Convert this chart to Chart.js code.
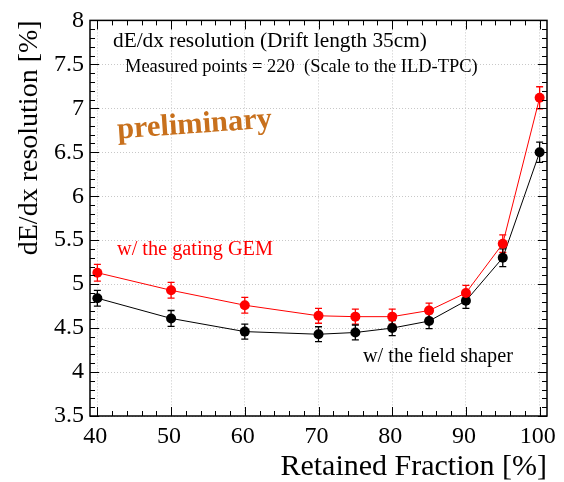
<!DOCTYPE html>
<html>
<head>
<meta charset="utf-8">
<script src="https://cdn.jsdelivr.net/npm/chart.js@4.4.0/dist/chart.umd.min.js"></script>
<style>
  html, body { margin: 0; padding: 0; background: #fff; }
</style>
</head>
<body>
<canvas id="chart" width="564" height="482"></canvas>
<script>
const fractions = [40, 50, 60, 70, 75, 80, 85, 90, 95, 100];
const gatingGem = [5.13, 4.93, 4.76, 4.64, 4.63, 4.63, 4.70, 4.90, 5.46, 7.12];
const gatingGemErr = [0.095, 0.09, 0.09, 0.085, 0.085, 0.085, 0.085, 0.085, 0.10, 0.125];
const fieldShaper = [4.84, 4.61, 4.46, 4.43, 4.45, 4.50, 4.58, 4.81, 5.30, 6.50];
const fieldShaperErr = [0.09, 0.09, 0.085, 0.085, 0.085, 0.085, 0.085, 0.085, 0.10, 0.115];
const xTicks = [40, 50, 60, 70, 80, 90, 100];
const yTicks = [3.5, 4, 4.5, 5, 5.5, 6, 6.5, 7, 7.5, 8];

const SERIF = "'Liberation Serif', 'DejaVu Serif', serif";

function toPoints(xs, ys) {
  return xs.map((x, i) => ({ x: x, y: ys[i] }));
}

// font size so that the text is given width wide
function fitFont(ctx, text, width, weight) {
  ctx.font = weight + " 20px " + SERIF;
  const w = ctx.measureText(text).width;
  return weight + " " + (20 * width / w).toFixed(2) + "px " + SERIF;
}

const errorBars = {
  id: "errorBars",
  beforeDatasetsDraw(chart) {
    const { ctx, scales: { x, y } } = chart;
    const errs = [gatingGemErr, fieldShaperErr];
    ctx.save();
    ctx.lineWidth = 1.3;
    chart.data.datasets.forEach((ds, k) => {
      ctx.strokeStyle = ds.borderColor;
      ds.data.forEach((p, i) => {
        const px = x.getPixelForValue(p.x);
        const top = y.getPixelForValue(p.y + errs[k][i]);
        const bot = y.getPixelForValue(p.y - errs[k][i]);
        ctx.beginPath();
        ctx.moveTo(px, top); ctx.lineTo(px, bot);
        ctx.moveTo(px - 3.5, top); ctx.lineTo(px + 3.5, top);
        ctx.moveTo(px - 3.5, bot); ctx.lineTo(px + 3.5, bot);
        ctx.stroke();
      });
    });
    ctx.restore();
  }
};

const frameTicks = {
  id: "frameTicks",
  afterDraw(chart) {
    const { ctx, chartArea: a, scales: { x, y } } = chart;
    ctx.save();
    ctx.strokeStyle = "#000";
    ctx.lineWidth = 1;
    ctx.beginPath();
    for (let i = 20; i <= 50; i++) {
      const v = i * 2;
      const px = Math.round(x.getPixelForValue(v)) + 0.5;
      const len = v % 10 === 0 ? 9 : 5;
      ctx.moveTo(px, a.bottom); ctx.lineTo(px, a.bottom - len);
      ctx.moveTo(px, a.top); ctx.lineTo(px, a.top + len);
    }
    for (let i = 35; i <= 80; i++) {
      const py = Math.round(y.getPixelForValue(i / 10)) + 0.5;
      const len = i % 5 === 0 ? 9 : 5;
      ctx.moveTo(a.left, py); ctx.lineTo(a.left + len, py);
      ctx.moveTo(a.right, py); ctx.lineTo(a.right - len, py);
    }
    ctx.stroke();
    ctx.lineWidth = 1.5;
    ctx.strokeRect(a.left, a.top, a.right - a.left, a.bottom - a.top);
    ctx.restore();
  }
};

const labels = {
  id: "labels",
  afterDraw(chart) {
    const ctx = chart.ctx;
    ctx.save();
    ctx.textBaseline = "alphabetic";
    ctx.textAlign = "left";
    ctx.fillStyle = "#000";

    let t = "dE/dx resolution (Drift length 35cm)";
    ctx.font = fitFont(ctx, t, 314, "normal");
    ctx.fillText(t, 113, 47);

    t = "Measured points = 220  (Scale to the ILD-TPC)";
    ctx.font = fitFont(ctx, t, 353, "normal");
    ctx.fillText(t, 125, 72);

    ctx.fillStyle = "#ff0000";
    t = "w/ the gating GEM";
    ctx.font = fitFont(ctx, t, 156, "normal");
    ctx.fillText(t, 117, 255);

    ctx.fillStyle = "#000";
    t = "w/ the field shaper";
    ctx.font = fitFont(ctx, t, 150, "normal");
    ctx.fillText(t, 363, 362);

    t = "preliminary";
    ctx.fillStyle = "#c8701c";
    ctx.font = fitFont(ctx, t, 155, "bold");
    ctx.translate(195, 133);
    ctx.rotate(-4 * Math.PI / 180);
    ctx.textAlign = "center";
    ctx.fillText(t, 0, 0);
    ctx.restore();
  }
};

new Chart(document.getElementById("chart"), {
  type: "line",
  data: {
    datasets: [
      {
        label: "w/ the gating GEM",
        data: toPoints(fractions, gatingGem),
        borderColor: "#ff0000",
        backgroundColor: "#ff0000",
        borderWidth: 1,
        pointRadius: 5,
        pointBorderWidth: 0,
        tension: 0
      },
      {
        label: "w/ the field shaper",
        data: toPoints(fractions, fieldShaper),
        borderColor: "#000000",
        backgroundColor: "#000000",
        borderWidth: 1,
        pointRadius: 5,
        pointBorderWidth: 0,
        tension: 0
      }
    ]
  },
  options: {
    responsive: false,
    animation: false,
    devicePixelRatio: 1,
    layout: { padding: { top: 13, right: 17, left: 0, bottom: 0 } },
    plugins: {
      legend: { display: false },
      tooltip: { enabled: false }
    },
    scales: {
      x: {
        type: "linear",
        min: 39,
        max: 101,
        afterBuildTicks: s => { s.ticks = xTicks.map(v => ({ value: v })); },
        afterFit: s => { s.height = 66; },
        grid: { color: "#c8c8c8", lineWidth: 1, drawTicks: false },
        border: { display: false, dash: [1, 2] },
        ticks: {
          color: "#000",
          padding: 6,
          labelOffset: -2,
          maxRotation: 0,
          font: { family: SERIF, size: 24 },
          callback: v => String(v)
        },
        title: {
          display: true,
          text: "Retained Fraction [%]",
          align: "end",
          color: "#000",
          font: { family: SERIF, size: 30 },
          padding: { top: 0, bottom: -3 }
        }
      },
      y: {
        min: 3.5,
        max: 8,
        afterBuildTicks: s => { s.ticks = yTicks.map(v => ({ value: v })); },
        afterFit: s => { s.width = 90; },
        grid: { color: "#c8c8c8", lineWidth: 1, drawTicks: false },
        border: { display: false, dash: [1, 2] },
        ticks: {
          color: "#000",
          padding: 6,
          font: { family: SERIF, size: 24 },
          callback: v => String(v)
        },
        title: {
          display: true,
          text: "dE/dx resolution [%]",
          align: "end",
          color: "#000",
          font: { family: SERIF, size: 28 },
          padding: { top: 13, bottom: 0 }
        }
      }
    }
  },
  plugins: [errorBars, frameTicks, labels]
});
</script>
</body>
</html>
